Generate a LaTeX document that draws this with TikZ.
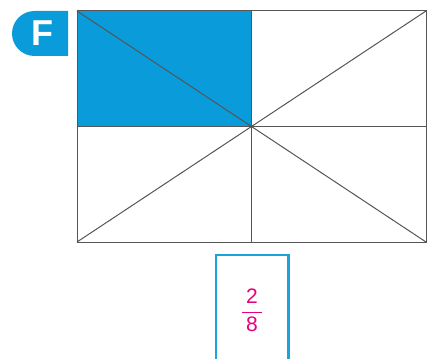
\documentclass[tikz,border=0pt]{standalone}
\usepackage{fontspec}
\setmainfont{Liberation Sans}
\definecolor{tabblue}{HTML}{0A9BDA}
\definecolor{boxblue}{HTML}{1BA3DC}
\definecolor{lineg}{HTML}{555555}
\definecolor{mag}{HTML}{E5007D}
\begin{document}
\begin{tikzpicture}[x=1pt,y=-1pt,
  gridline/.style={draw=lineg,line width=1pt},
  fracbox/.style={draw=boxblue,line width=2.5pt}]
\useasboundingbox (0,0) rectangle (430,358);
% tab
\fill[tabblue] (68,11) -- (34.5,11) arc[start angle=270,end angle=90,radius=22.5] -- (68,56) -- cycle;
\node[text=white,font=\bfseries\fontsize{36}{36}\selectfont] (F) at (42,33.5) {F};
% corners
\coordinate (tl) at (77,11);
\coordinate (tr) at (426,11);
\coordinate (bl) at (77,242);
\coordinate (br) at (426,242);
\coordinate (c) at (251.5,126.5);
\coordinate (tm) at (251.5,11);
\coordinate (bm) at (251.5,242);
\coordinate (ml) at (77,126.5);
\coordinate (mr) at (426,126.5);
\fill[tabblue] (tl) rectangle (c);
\draw[gridline] (tl) rectangle (br);
\draw[gridline] (tm) -- (bm);
\draw[gridline] (ml) -- (mr);
\draw[gridline] (tl) -- (br);
\draw[gridline] (tr) -- (bl);
% answer box
\draw[fracbox] (216,362) -- (216,255) -- (288.5,255) -- (288.5,362);
\node[text=mag,font=\fontsize{21}{21}\selectfont,inner sep=0pt] (frac) at (252,310) {$\displaystyle\frac{\makebox[20pt]{2}}{\makebox[20pt]{8}}$};
\end{tikzpicture}
\end{document}
